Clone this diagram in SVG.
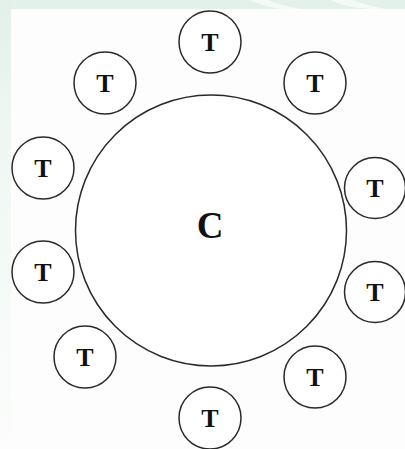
<svg xmlns="http://www.w3.org/2000/svg" width="405" height="449" viewBox="0 0 405 449">
<style>
.n{fill:#ffffff;stroke:#2a2a2a;stroke-width:1.5}
.t{font-family:"Liberation Serif","Times New Roman",serif;font-weight:bold;fill:#111;text-anchor:middle}
.s{font-size:26px}
.b{font-size:37px}
</style>
<defs>
<linearGradient id="lg" x1="0" y1="0" x2="0" y2="1">
<stop offset="0" stop-color="#e2f0e8"/>
<stop offset="0.3" stop-color="#f0f7f3"/>
<stop offset="1" stop-color="#fcfdfc"/>
</linearGradient>
</defs>
<rect width="405" height="449" fill="#fdfdfd"/>
<rect x="0" y="0" width="405" height="9" fill="#e4f1ea"/>
<rect x="0" y="0" width="11" height="449" fill="url(#lg)"/>
<path d="M250 0 Q262 6 280 9 L300 9 Q275 4 268 0 Z" fill="#f4faf6"/>
<path d="M330 0 Q345 7 370 9 L385 9 Q360 3 352 0 Z" fill="#f4faf6"/>
<g id="connectors"></g>
<g id="C"><circle class="n" cx="211" cy="230.5" r="135.5"/><text class="t b" x="210" y="238">C</text></g>
<g id="T1"><circle class="n" cx="210" cy="42" r="31"/><text class="t s" x="210" y="51">T</text></g>
<g id="T2"><circle class="n" cx="315" cy="83" r="31"/><text class="t s" x="315" y="92">T</text></g>
<g id="T3"><circle class="n" cx="375" cy="188" r="30.5"/><text class="t s" x="375" y="197">T</text></g>
<g id="T4"><circle class="n" cx="375" cy="292" r="30.5"/><text class="t s" x="375" y="301">T</text></g>
<g id="T5"><circle class="n" cx="315" cy="377" r="31"/><text class="t s" x="315" y="386">T</text></g>
<g id="T6"><circle class="n" cx="210" cy="418" r="31"/><text class="t s" x="210" y="427">T</text></g>
<g id="T7"><circle class="n" cx="85" cy="357" r="31"/><text class="t s" x="85" y="366">T</text></g>
<g id="T8"><circle class="n" cx="43" cy="272" r="31"/><text class="t s" x="43" y="281">T</text></g>
<g id="T9"><circle class="n" cx="43" cy="168" r="31"/><text class="t s" x="43" y="177">T</text></g>
<g id="T10"><circle class="n" cx="105" cy="83" r="31"/><text class="t s" x="105" y="92">T</text></g>
</svg>
